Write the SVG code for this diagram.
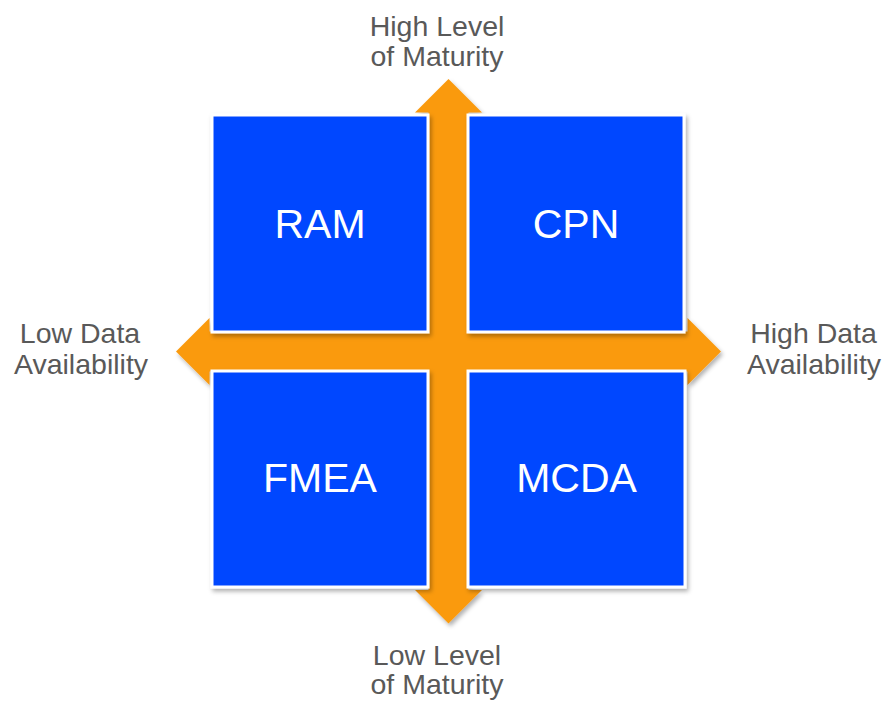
<svg xmlns="http://www.w3.org/2000/svg" width="885" height="702" viewBox="0 0 885 702">
  <defs>
    <filter id="shadow" x="-10%" y="-10%" width="130%" height="130%">
      <feDropShadow dx="2" dy="3" stdDeviation="2" flood-color="#000" flood-opacity="0.3"/>
    </filter>
  </defs>
  <style>
    .box { fill: #0546FF; stroke: #FFFFFF; stroke-width: 3; filter: url(#shadow); }
    .boxlabel { font-family: "Liberation Sans", Arial, sans-serif; font-size: 41px; fill: #FFFFFF; text-anchor: middle; }
    .axislabel { font-family: "Liberation Sans", Arial, sans-serif; font-size: 28.5px; fill: #595959; text-anchor: middle; }
    .axis { fill: #FA9A0E; filter: url(#shadow); }
  </style>
  <rect width="885" height="702" fill="#FFFFFF"/>
  <g id="connectors">
    <polygon class="axis" points="448.5,79 482,112.5 468.5,112.5 468.5,331.5 687.5,331.5 687.5,318 721,351.5 687.5,385 687.5,371.5 468.5,371.5 468.5,590 482,590 448.5,623.5 415,590 428.5,590 428.5,371.5 209.5,371.5 209.5,385 176,351.5 209.5,318 209.5,331.5 428.5,331.5 428.5,112.5 415,112.5"/>
  </g>
  <g id="ram">
    <rect class="box" x="212" y="115" width="216" height="217"/>
    <text class="boxlabel" x="320" y="238">RAM</text>
  </g>
  <g id="cpn">
    <rect class="box" x="468" y="115" width="216" height="217"/>
    <text class="boxlabel" x="576" y="238">CPN</text>
  </g>
  <g id="fmea">
    <rect class="box" x="212" y="371" width="216" height="216"/>
    <text class="boxlabel" x="320" y="492">FMEA</text>
  </g>
  <g id="mcda">
    <rect class="box" x="468" y="371" width="217" height="216"/>
    <text class="boxlabel" x="576.5" y="492">MCDA</text>
  </g>
  <g id="label-high-maturity">
    <text class="axislabel" x="437" y="36">High Level</text>
    <text class="axislabel" x="437" y="66">of Maturity</text>
  </g>
  <g id="label-low-maturity">
    <text class="axislabel" x="437" y="665">Low Level</text>
    <text class="axislabel" x="437" y="694">of Maturity</text>
  </g>
  <g id="label-low-data">
    <text class="axislabel" x="80" y="343">Low Data</text>
    <text class="axislabel" x="81" y="374">Availability</text>
  </g>
  <g id="label-high-data">
    <text class="axislabel" x="813.5" y="343">High Data</text>
    <text class="axislabel" x="814" y="374">Availability</text>
  </g>
</svg>
